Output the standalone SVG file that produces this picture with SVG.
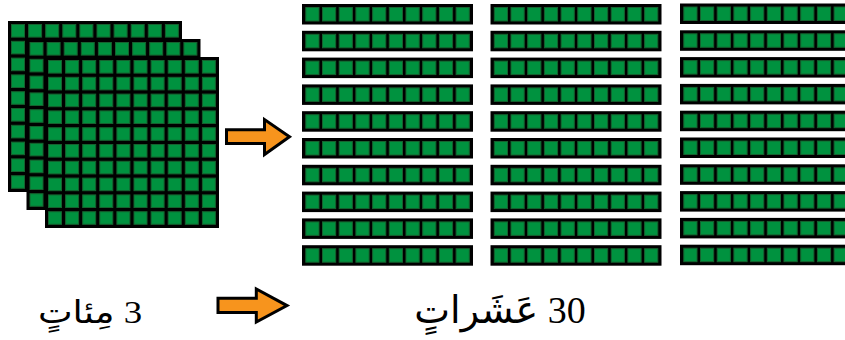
<svg xmlns="http://www.w3.org/2000/svg" xmlns:xlink="http://www.w3.org/1999/xlink" width="845" height="340" viewBox="0 0 845 340">
<style>
.blk{fill:#000}
.cell{fill:#00923f;stroke:#16622f;stroke-width:1}
.arrow{fill:#f7941d;stroke:#000;stroke-width:3;stroke-linejoin:miter}
.lbl{font-family:"Liberation Serif","DejaVu Serif","DejaVu Sans",serif;fill:#000;text-anchor:middle;direction:rtl;unicode-bidi:embed}
.num{font-family:"Liberation Serif",serif}
.ar{font-family:"DejaVu Sans","Noto Sans",sans-serif}
</style>
<defs>
<g id="hrow">
<rect class="cell" x="3.5" y="0.5" width="13" height="12.6"/>
<rect class="cell" x="20.6" y="0.5" width="13" height="12.6"/>
<rect class="cell" x="37.7" y="0.5" width="13" height="12.6"/>
<rect class="cell" x="54.8" y="0.5" width="13" height="12.6"/>
<rect class="cell" x="71.9" y="0.5" width="13" height="12.6"/>
<rect class="cell" x="89" y="0.5" width="13" height="12.6"/>
<rect class="cell" x="106.1" y="0.5" width="13" height="12.6"/>
<rect class="cell" x="123.2" y="0.5" width="13" height="12.6"/>
<rect class="cell" x="140.3" y="0.5" width="13" height="12.6"/>
<rect class="cell" x="157.4" y="0.5" width="13" height="12.6"/>
</g>
<g id="hsq">
<rect class="blk" x="0" y="0" width="174" height="171"/>
<use xlink:href="#hrow" href="#hrow" y="3"/>
<use xlink:href="#hrow" href="#hrow" y="19.8"/>
<use xlink:href="#hrow" href="#hrow" y="36.6"/>
<use xlink:href="#hrow" href="#hrow" y="53.4"/>
<use xlink:href="#hrow" href="#hrow" y="70.2"/>
<use xlink:href="#hrow" href="#hrow" y="87"/>
<use xlink:href="#hrow" href="#hrow" y="103.8"/>
<use xlink:href="#hrow" href="#hrow" y="120.6"/>
<use xlink:href="#hrow" href="#hrow" y="137.4"/>
<use xlink:href="#hrow" href="#hrow" y="154.2"/>
</g>
<g id="rod">
<rect class="blk" x="0" y="0" width="171" height="20.5"/>
<rect class="cell" x="3.8" y="3.5" width="13.2" height="13.5"/>
<rect class="cell" x="20.5" y="3.5" width="13.2" height="13.5"/>
<rect class="cell" x="37.2" y="3.5" width="13.2" height="13.5"/>
<rect class="cell" x="53.9" y="3.5" width="13.2" height="13.5"/>
<rect class="cell" x="70.6" y="3.5" width="13.2" height="13.5"/>
<rect class="cell" x="87.3" y="3.5" width="13.2" height="13.5"/>
<rect class="cell" x="104" y="3.5" width="13.2" height="13.5"/>
<rect class="cell" x="120.7" y="3.5" width="13.2" height="13.5"/>
<rect class="cell" x="137.4" y="3.5" width="13.2" height="13.5"/>
<rect class="cell" x="154.1" y="3.5" width="13.2" height="13.5"/>
</g>
<g id="rodcol">
<use xlink:href="#rod" href="#rod" y="0"/>
<use xlink:href="#rod" href="#rod" y="26.8"/>
<use xlink:href="#rod" href="#rod" y="53.6"/>
<use xlink:href="#rod" href="#rod" y="80.4"/>
<use xlink:href="#rod" href="#rod" y="107.2"/>
<use xlink:href="#rod" href="#rod" y="134"/>
<use xlink:href="#rod" href="#rod" y="160.8"/>
<use xlink:href="#rod" href="#rod" y="187.6"/>
<use xlink:href="#rod" href="#rod" y="214.4"/>
<use xlink:href="#rod" href="#rod" y="241.2"/>
</g>
</defs>
<g id="hundreds">
<use xlink:href="#hsq" href="#hsq" x="8" y="21"/>
<use xlink:href="#hsq" href="#hsq" x="26.5" y="39"/>
<use xlink:href="#hsq" href="#hsq" x="45" y="57"/>
</g>
<g id="tens">
<use xlink:href="#rodcol" href="#rodcol" x="302" y="4"/>
<use xlink:href="#rodcol" href="#rodcol" x="490.5" y="4"/>
<use xlink:href="#rodcol" href="#rodcol" x="680" y="3.5"/>
</g>
<g id="connectors">
<polygon class="arrow" points="226.5,129.8 264.5,129.8 264.5,119.5 289.5,136.7 264.5,154.5 264.5,143.5 226.5,143.5"/>
<polygon class="arrow" points="218,298.2 256.3,298.2 256.3,289 287,305.6 256.3,322 256.3,312.5 218,312.5"/>
</g>
<g id="label-hundreds">
<text class="lbl" transform="translate(90,323) scale(1.15,1)" x="0" y="0" font-size="32"><tspan class="num">3</tspan> <tspan class="ar">مِئاتٍ</tspan></text>
</g>
<g id="label-tens">
<text class="lbl" x="500" y="323" font-size="38"><tspan class="num">30</tspan> <tspan class="ar">عَشَراتٍ</tspan></text>
</g>
</svg>
